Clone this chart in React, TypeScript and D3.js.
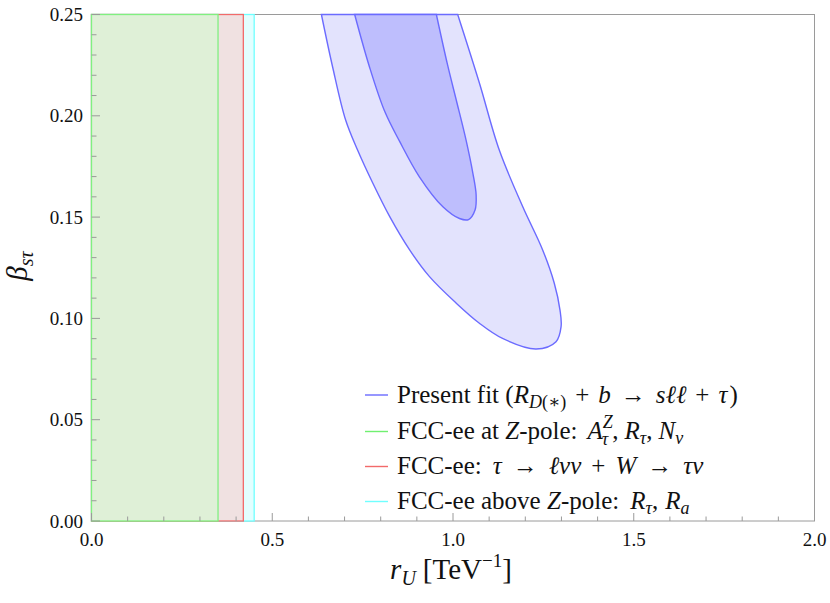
import React from "react";
import * as d3 from "d3";

const xTicks = [0, 0.5, 1.0, 1.5, 2.0];
const xTickLabels = ["0.0", "0.5", "1.0", "1.5", "2.0"];
const yTicks = [0, 0.05, 0.1, 0.15, 0.2, 0.25];
const yTickLabels = ["0.00", "0.05", "0.10", "0.15", "0.20", "0.25"];

// vertical exclusion bands (upper bound on r_U)
const bandNames = ["cyan", "red", "green"];
const bandLimits = [0.45, 0.42, 0.35];

// present fit: outer and inner contours
const outerX = [0.636, 0.667, 0.703, 0.736, 0.778, 0.825, 0.88, 0.935, 1.009, 1.073, 1.137, 1.23, 1.285, 1.299, 1.296, 1.28, 1.248, 1.193, 1.128, 1.073, 1.013];
const outerY = [0.25, 0.2241, 0.1979, 0.1831, 0.1668, 0.1502, 0.1338, 0.1206, 0.1075, 0.0976, 0.0901, 0.0849, 0.0885, 0.0959, 0.1041, 0.1175, 0.1338, 0.1551, 0.1831, 0.2162, 0.25];
const innerX = [0.728, 0.769, 0.811, 0.852, 0.907, 0.972, 1.018, 1.043, 1.061, 1.064, 1.055, 1.036, 1.009, 0.985, 0.954];
const innerY = [0.25, 0.2241, 0.2022, 0.1875, 0.1699, 0.1551, 0.1493, 0.1488, 0.1535, 0.1609, 0.1716, 0.1881, 0.2078, 0.2251, 0.25];

const W = 830, H = 603;
const M = { left: 91.5, right: 814.5, top: 14.5, bottom: 521 };
const FONT = "'Liberation Serif', 'DejaVu Serif', serif";

const bandStyle: Record<string, { fill: string; stroke: string }> = {
  cyan: { fill: "#e2ffff", stroke: "#70ffff" },
  red: { fill: "#f0e1e1", stroke: "#f26a6a" },
  green: { fill: "#dff0d7", stroke: "#80f080" },
};

export default function App() {
  const x = d3.scaleLinear().domain([0, 2]).range([M.left, M.right]);
  const y = d3.scaleLinear().domain([0, 0.25]).range([M.bottom, M.top]);

  const line = d3
    .line<[number, number]>()
    .x((d) => x(d[0]))
    .y((d) => y(d[1]))
    .curve(d3.curveCatmullRom.alpha(0.5));
  const outerPath = line(outerX.map((v, i) => [v, outerY[i]] as [number, number])) + "Z";
  const innerPath = line(innerX.map((v, i) => [v, innerY[i]] as [number, number])) + "Z";

  const xMinor = d3.range(0, 2.0001, 0.1).filter((v) => Math.abs(v * 2 - Math.round(v * 2)) > 1e-6);
  const yMinor = d3.range(0, 0.2501, 0.01).filter((v) => Math.abs(v * 20 - Math.round(v * 20)) > 1e-6);

  const axisColor = "#9a9a9a";
  const legendX = 365;
  const legendRows = [395, 431.5, 466.5, 501.5];
  const legendColors = ["#6b6bff", "#70f070", "#f26a6a", "#70ffff"];
  const fs = 19;
  const lfs = 25;
  const sub = 18;
  const tx = 397;

  const it = { fontStyle: "italic" as const };

  return (
    <svg width={W} height={H} style={{ display: "block", position: "absolute", left: 0, top: 0 }} fontFamily={FONT}>
      <rect x={0} y={0} width={W} height={H} fill="#fff" />
      {/* frame */}
      <rect x={M.left} y={M.top} width={M.right - M.left} height={M.bottom - M.top} fill="none" stroke={axisColor} strokeWidth={1} />
      {bandNames.map((b, i) => (
        <rect
          key={b}
          x={x(0)}
          y={y(0.25)}
          width={x(bandLimits[i]) - x(0)}
          height={y(0) - y(0.25)}
          fill={bandStyle[b].fill}
          stroke={bandStyle[b].stroke}
          strokeWidth={1.3}
        />
      ))}
      <path d={outerPath} fill="#e3e3fd" stroke="#6b6bff" strokeWidth={1.4} />
      <path d={innerPath} fill="#bebefd" stroke="#6b6bff" strokeWidth={1.4} />

      {xTicks.map((t) => (
        <line key={"xt" + t} x1={x(t)} x2={x(t)} y1={M.bottom} y2={M.bottom - 8} stroke={axisColor} />
      ))}
      {xMinor.map((t) => (
        <line key={"xm" + t} x1={x(t)} x2={x(t)} y1={M.bottom} y2={M.bottom - 4.5} stroke={axisColor} />
      ))}
      {yTicks.map((t) => (
        <line key={"yt" + t} x1={M.left} x2={M.left + 8.5} y1={y(t)} y2={y(t)} stroke={axisColor} />
      ))}
      {yMinor.map((t) => (
        <line key={"ym" + t} x1={M.left} x2={M.left + 5} y1={y(t)} y2={y(t)} stroke={axisColor} />
      ))}
      {xTicks.map((t, i) => (
        <text key={"xl" + t} x={x(t)} y={546} fontSize={fs} textAnchor="middle" fill="#111">
          {xTickLabels[i]}
        </text>
      ))}
      {yTicks.map((t, i) => (
        <text key={"yl" + t} x={83} y={y(t) + 6.5} fontSize={fs} textAnchor="end" fill="#111">
          {yTickLabels[i]}
        </text>
      ))}

      {/* axis titles */}
      <text x={451} y={579} fontSize={29} textAnchor="middle" fill="#111">
        <tspan {...it}>r</tspan>
        <tspan fontSize={20} {...it} dy={6}>U</tspan>
        <tspan dy={-6} dx={7}>[TeV</tspan>
        <tspan fontSize={19} dy={-12}>−1</tspan>
        <tspan dy={12}>]</tspan>
      </text>
      <text transform="translate(27,266) rotate(-90)" fontSize={29} textAnchor="middle" fill="#111">
        <tspan {...it}>β</tspan>
        <tspan fontSize={20} {...it} dy={6}>sτ</tspan>
      </text>

      {/* legend */}
      {legendRows.map((ry, i) => (
        <line key={"lg" + i} x1={legendX} x2={legendX + 23} y1={ry} y2={ry} stroke={legendColors[i]} strokeWidth={1.4} />
      ))}
      <g fontSize={lfs} fill="#111">
        <text x={tx} y={legendRows[0] + 7.5}>
          Present fit (<tspan {...it}>R</tspan>
          <tspan fontSize={sub} dy={5} {...it}>D</tspan>
          <tspan fontSize={sub}>(∗)</tspan>
          <tspan dy={-5} dx={9}>+</tspan>
          <tspan dx={9} {...it}>b</tspan>
          <tspan dx={10}>→</tspan>
          <tspan dx={10} {...it}>sℓℓ</tspan>
          <tspan dx={9}>+</tspan>
          <tspan dx={9} {...it}>τ</tspan>
          <tspan dx={2}>)</tspan>
        </text>
        <text x={tx} y={legendRows[1] + 7.5}>
          FCC-ee at <tspan {...it}>Z</tspan>-pole:<tspan dx={10} {...it}>A</tspan>
          <tspan fontSize={sub} dy={-11} {...it}>Z</tspan>
          <tspan fontSize={sub} dy={17} dx={-11} {...it}>τ</tspan>
          <tspan dy={-6} dx={4}>,</tspan>
          <tspan dx={6} {...it}>R</tspan>
          <tspan fontSize={sub} dy={5} {...it}>τ</tspan>
          <tspan dy={-5}>,</tspan>
          <tspan dx={6} {...it}>N</tspan>
          <tspan fontSize={sub} dy={5} {...it}>ν</tspan>
        </text>
        <text x={tx} y={legendRows[2] + 7.5}>
          FCC-ee:<tspan dx={11} {...it}>τ</tspan>
          <tspan dx={11}>→</tspan>
          <tspan dx={11} {...it}>ℓνν</tspan>
          <tspan dx={10}>+</tspan>
          <tspan dx={10} {...it}>W</tspan>
          <tspan dx={11}>→</tspan>
          <tspan dx={11} {...it}>τν</tspan>
        </text>
        <text x={tx} y={legendRows[3] + 7.5}>
          FCC-ee above <tspan {...it}>Z</tspan>-pole:<tspan dx={11} {...it}>R</tspan>
          <tspan fontSize={sub} dy={5} {...it}>τ</tspan>
          <tspan dy={-5}>,</tspan>
          <tspan dx={7} {...it}>R</tspan>
          <tspan fontSize={sub} dy={5} {...it}>a</tspan>
        </text>
      </g>
    </svg>
  );
}
